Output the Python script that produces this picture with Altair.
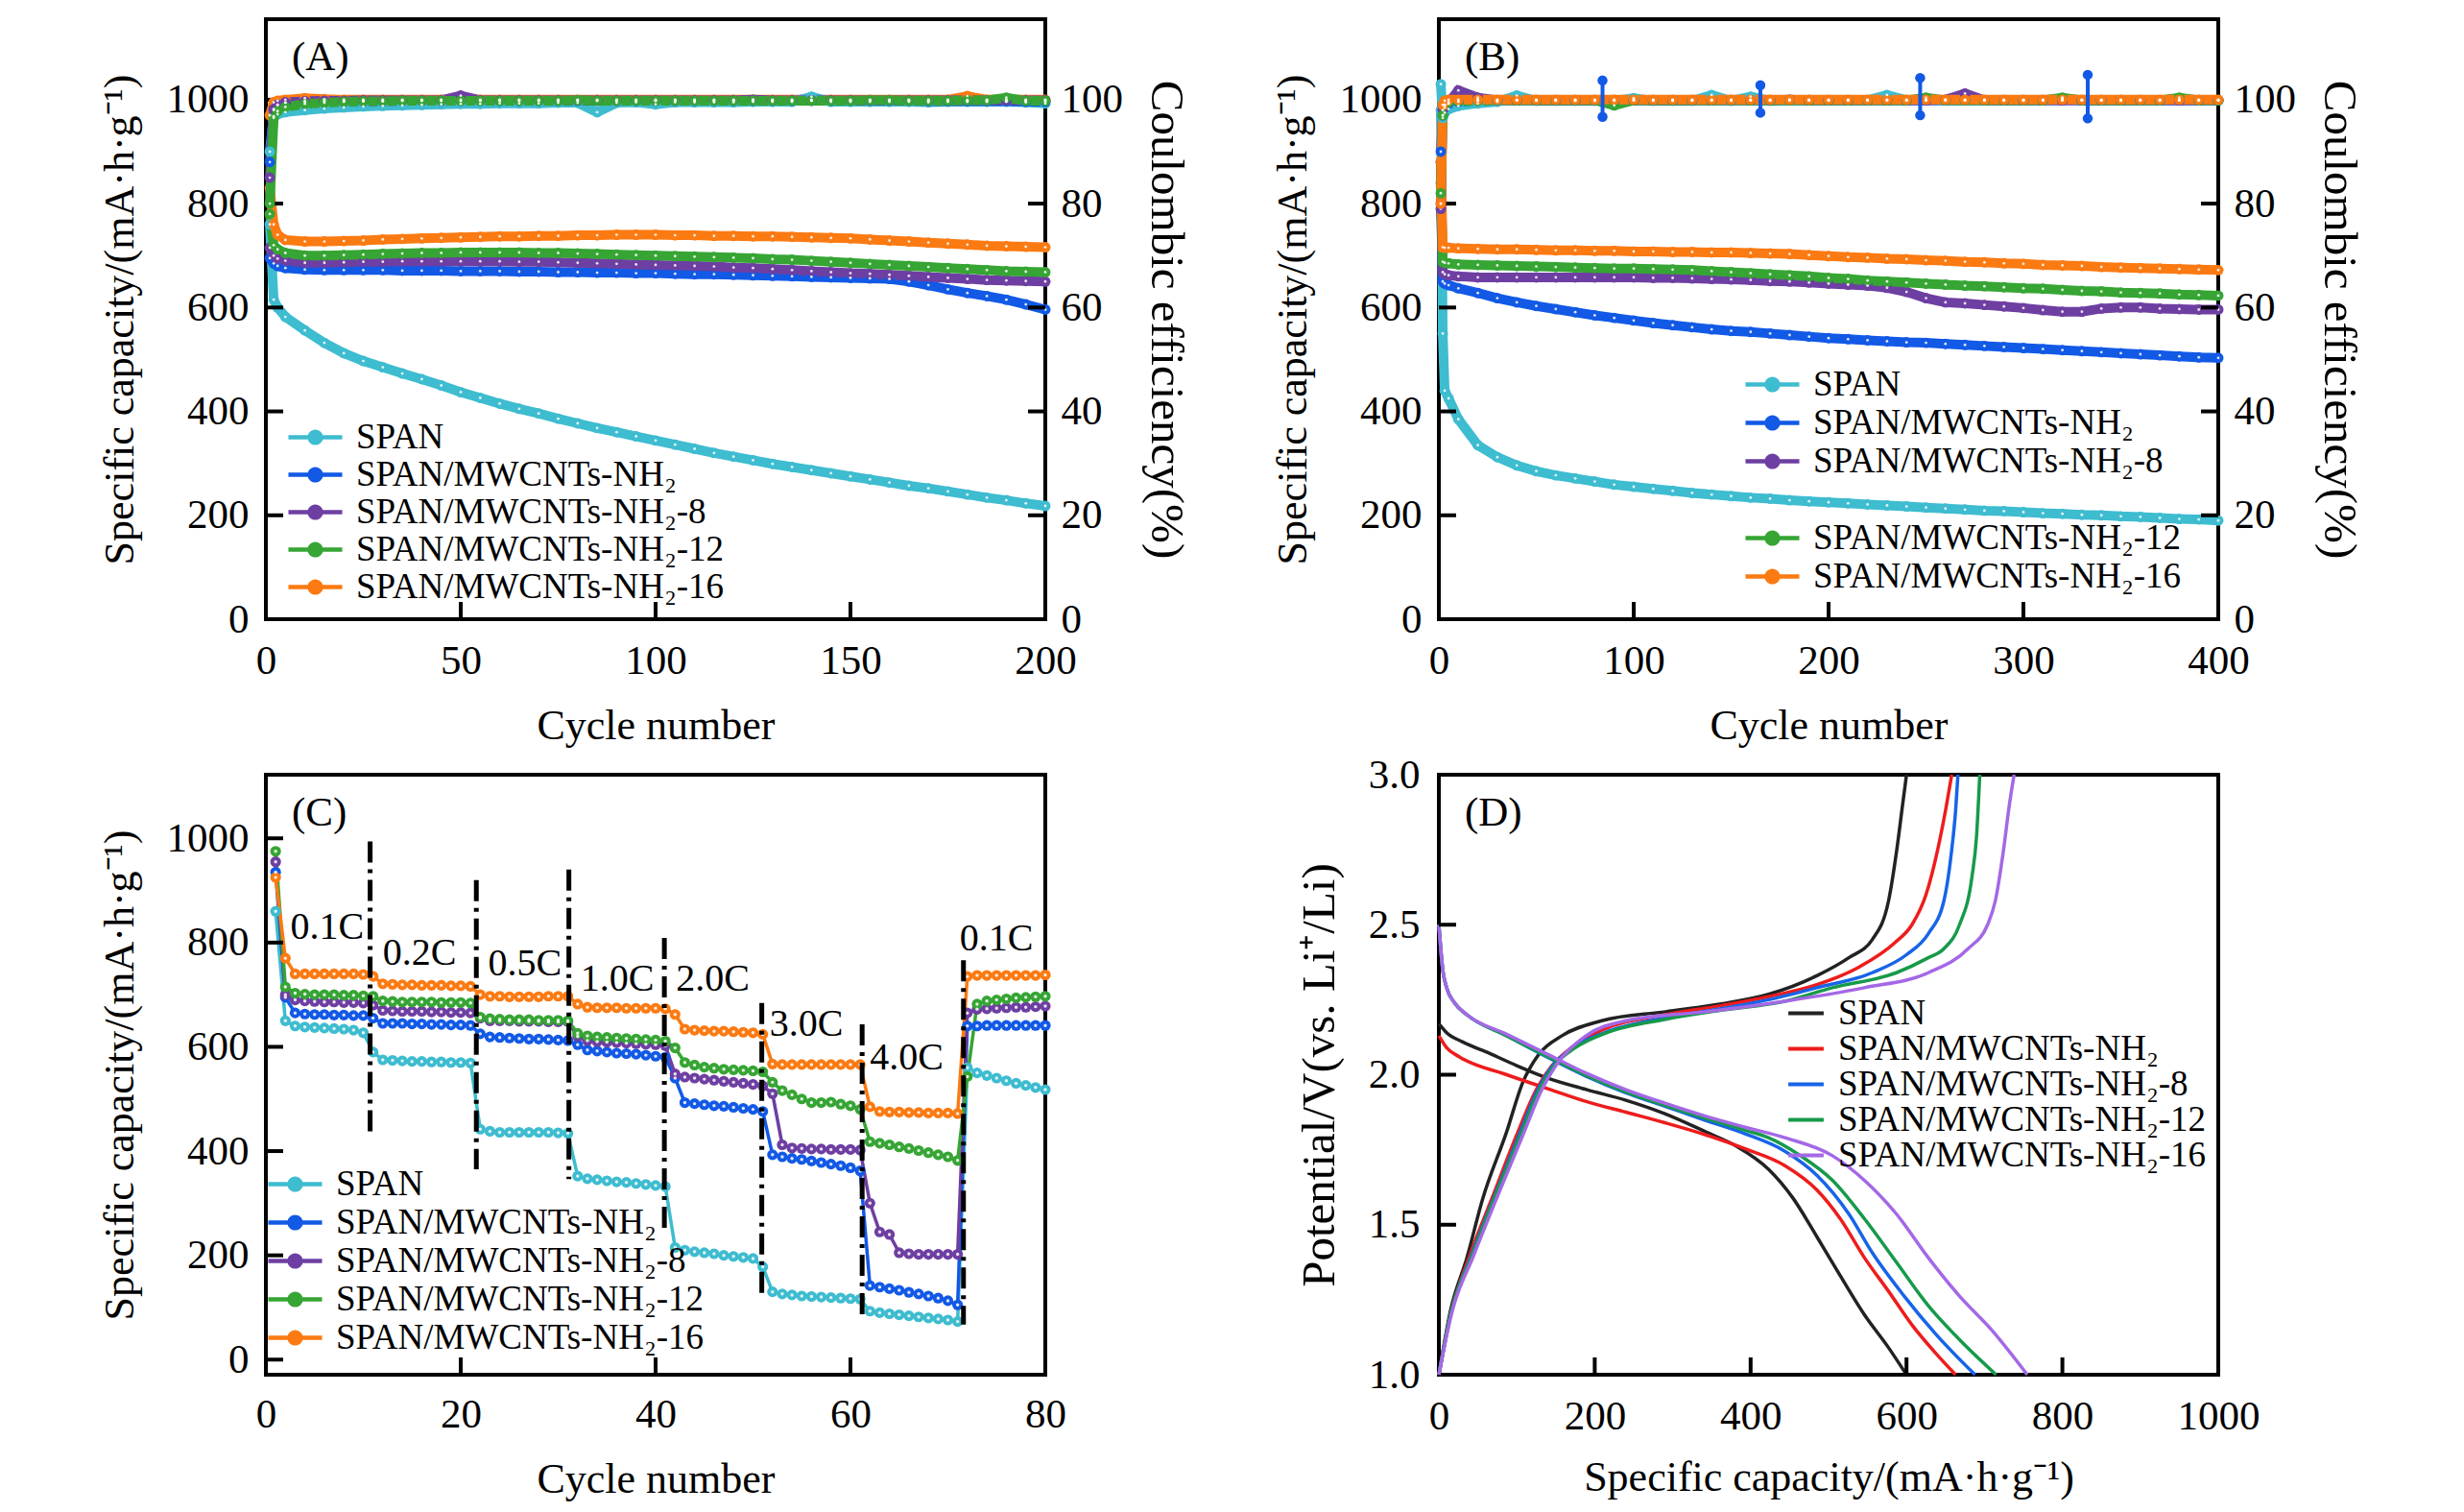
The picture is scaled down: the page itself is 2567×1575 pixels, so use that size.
import altair as alt
import pandas as pd

FONT = "Liberation Serif"
W, H = 812, 625
TICK_LEN = 18

SERIES = ["SPAN", "SPAN/MWCNTs-NH₂", "SPAN/MWCNTs-NH₂-8",
          "SPAN/MWCNTs-NH₂-12", "SPAN/MWCNTs-NH₂-16"]
COLORS = ["#3EBCD0", "#1259E6", "#6E3FA2", "#36A534", "#FB7A12"]
D_COLORS = ["#222222", "#EE1C1C", "#1764E8", "#169A4A", "#A468E6"]

# ------------------------------------------------------------------ (A)
a_cycles = [1, 2, 3] + list(range(5, 201, 5))
a_cap_span = [760, 615, 600, 582,
              556, 532, 512, 497, 485, 473, 462, 450, 437,
              426, 415, 405, 396, 386, 377, 368, 360, 352, 344,
              336, 328, 320, 313, 306, 299, 293, 287, 281, 275,
              269, 263, 257, 252, 246, 240, 234, 229, 223, 218]
a_cap_nh2 = [695, 685, 680, 676,
             673, 672, 672, 672, 672, 671, 671, 671, 670,
             670, 670, 669, 669, 668, 668, 667, 667, 666, 666,
             665, 664, 664, 663, 662, 661, 660, 659, 658, 657,
             656, 655, 650, 643, 635, 628, 622, 615, 606, 596]
a_cap_8 = [715, 700, 694, 690,
           686, 686, 687, 688, 688, 689, 689, 689, 689,
           689, 689, 688, 688, 687, 686, 685, 684, 683, 682,
           681, 680, 679, 677, 676, 674, 672, 670, 668, 666,
           665, 663, 661, 659, 657, 655, 653, 652, 651, 650]
a_cap_12 = [780, 720, 712, 705,
            700, 700, 701, 702, 703, 704, 705, 705, 706,
            706, 706, 706, 705, 705, 704, 703, 702, 701, 700,
            699, 698, 697, 696, 695, 693, 692, 690, 688, 686,
            684, 682, 680, 678, 676, 674, 672, 670, 669, 668]
a_cap_16 = [830, 760, 740, 730,
            727, 727, 728, 729, 731, 732, 733, 734, 735,
            736, 737, 737, 738, 738, 739, 739, 740, 740, 740,
            739, 739, 738, 738, 737, 737, 736, 735, 734, 733,
            731, 729, 727, 725, 723, 721, 719, 718, 717, 716]
a_ce_span = [90.0, 96.8, 97.2, 97.6,
             98.0, 98.3, 98.5, 98.7, 98.8, 98.9, 99.0, 99.1, 99.2,
             99.2, 99.3, 99.3, 99.3, 99.4, 99.4, 97.6, 99.4, 99.5, 99.1,
             99.5, 99.5, 99.5, 99.5, 99.6, 99.6, 99.6, 100.6, 99.6, 99.6,
             99.6, 99.6, 99.6, 99.5, 99.6, 99.6, 99.6, 99.6, 99.5, 99.3]
a_ce_nh2 = [88.0, 98.0, 99.0, 99.4,
            99.6, 99.7, 99.7, 99.7, 99.7, 99.8, 99.8, 99.8, 99.8,
            99.8, 99.8, 99.8, 99.8, 99.8, 99.8, 99.8, 99.8, 99.8, 99.8,
            99.8, 99.8, 99.8, 99.8, 99.8, 99.8, 99.8, 99.8, 99.8, 99.8,
            99.8, 99.8, 99.8, 99.7, 99.7, 99.7, 99.7, 99.7, 99.6, 99.6]
a_ce_8 = [85.0, 98.2, 99.0, 99.5,
          99.7, 99.8, 99.8, 99.9, 99.9, 99.9, 99.9, 99.9, 100.8,
          99.9, 99.9, 99.9, 99.9, 99.9, 99.9, 99.9, 99.9, 99.9, 99.9,
          99.9, 99.9, 99.9, 99.9, 100.0, 99.9, 99.9, 99.9, 99.9, 99.9,
          99.9, 99.9, 99.9, 99.9, 99.9, 99.9, 99.9, 99.9, 99.9, 99.9]
a_ce_12 = [80.0, 96.5, 97.8, 98.6,
           99.2, 99.4, 99.6, 99.7, 99.7, 99.8, 99.8, 99.8, 99.8,
           99.8, 99.8, 99.8, 99.8, 99.8, 99.9, 99.8, 99.8, 99.8, 99.8,
           99.8, 99.8, 99.8, 99.8, 99.8, 99.8, 99.8, 99.8, 99.8, 99.8,
           99.9, 99.9, 99.8, 99.8, 99.8, 99.9, 99.9, 100.4, 99.8, 99.8]
a_ce_16 = [97.0, 99.5, 99.8, 100.0,
           100.3, 100.1, 100.0, 100.0, 100.0, 100.0, 100.0, 100.0, 100.0,
           100.0, 100.0, 100.0, 100.0, 100.0, 100.0, 100.0, 100.0, 100.0, 100.0,
           100.0, 100.0, 100.0, 100.0, 100.0, 100.0, 100.0, 100.0, 100.0, 100.0,
           100.0, 100.0, 100.0, 100.0, 100.0, 100.7, 100.0, 100.0, 100.0, 100.0]

# ------------------------------------------------------------------ (B)
b_cycles = [1, 2, 3, 5] + list(range(10, 401, 10))
b_cap_span = [980, 550, 440, 425,
              385, 335, 312, 296, 285, 277, 271, 265, 259, 255,
              251, 247, 243, 240, 237, 234, 232, 229, 227, 225,
              223, 221, 219, 217, 215, 213, 211, 209, 208, 206,
              204, 203, 201, 200, 198, 197, 195, 193, 192, 190]
b_cap_nh2 = [880, 650, 646, 643,
             637, 628, 618, 610, 603, 597, 591, 585, 580, 575,
             570, 566, 562, 558, 555, 553, 550, 547, 544, 541,
             539, 537, 535, 533, 532, 530, 528, 526, 524, 522,
             520, 518, 516, 514, 512, 510, 508, 506, 504, 503]
b_cap_8 = [790, 668, 664, 662,
           660, 658, 658, 658, 658, 658, 658, 658, 658, 658,
           657, 657, 656, 655, 654, 653, 651, 650, 648, 646,
           644, 642, 638, 630, 618, 610, 608, 605, 602, 599,
           595, 592, 592, 598, 600, 600, 598, 597, 596, 596]
b_cap_12 = [840, 688, 686, 685,
            683, 682, 681, 680, 679, 678, 677, 676, 675, 675,
            674, 673, 672, 670, 668, 666, 664, 662, 660, 657,
            655, 652, 650, 648, 646, 644, 642, 641, 639, 637,
            636, 634, 632, 631, 629, 628, 627, 625, 624, 623]
b_cap_16 = [880, 716, 715, 715,
            714, 713, 712, 712, 711, 710, 710, 709, 709, 708,
            708, 707, 707, 706, 706, 705, 704, 703, 701, 699,
            697, 696, 694, 693, 691, 690, 688, 687, 685, 684,
            682, 681, 680, 678, 677, 676, 675, 674, 673, 672]
b_ce_span = [103.0, 96.5, 97.5, 98.2,
             98.8, 99.3, 99.6, 100.8, 99.8, 99.8, 99.8, 99.8, 99.8, 100.3,
             99.8, 99.8, 99.8, 100.9, 99.8, 100.6, 99.8, 99.9, 99.9, 99.9,
             99.9, 99.9, 100.9, 99.9, 99.9, 99.9, 99.9, 99.9, 99.9, 99.9,
             99.9, 100.3, 99.9, 99.9, 99.9, 99.9, 99.9, 99.9, 99.9, 99.9]
b_ce_nh2 = [90.0, 97.0, 98.5, 99.2,
            99.6, 99.9, 99.9, 99.9, 99.9, 99.9, 99.9, 99.9, 99.9, 99.9,
            99.9, 99.9, 99.9, 99.9, 99.9, 99.9, 99.9, 99.9, 99.9, 99.9,
            99.9, 99.9, 99.9, 99.9, 99.9, 99.9, 99.9, 99.9, 99.9, 99.9,
            99.9, 99.9, 99.9, 99.9, 99.9, 99.9, 99.9, 99.9, 99.9, 99.9]
b_ce_8 = [80.0, 98.0, 99.0, 99.5,
          101.8, 100.4, 99.9, 99.9, 99.9, 99.9, 99.9, 99.9, 99.9, 99.9,
          99.9, 99.9, 99.9, 99.9, 99.9, 99.9, 99.9, 100.0, 99.9, 99.9,
          99.9, 99.9, 99.9, 99.9, 99.9, 100.0, 101.2, 99.9, 99.9, 99.9,
          99.9, 99.9, 99.9, 99.9, 99.9, 99.9, 99.9, 99.9, 99.9, 99.9]
b_ce_12 = [82.0, 97.0, 99.0, 99.5,
           99.7, 99.8, 99.9, 99.9, 99.9, 99.9, 99.9, 99.9, 98.9, 99.9,
           99.9, 99.9, 99.9, 99.9, 99.9, 99.9, 99.9, 99.9, 99.9, 99.9,
           99.9, 99.9, 99.9, 99.9, 100.4, 99.9, 99.9, 99.9, 99.9, 99.9,
           99.9, 100.4, 99.9, 99.9, 99.9, 99.9, 99.9, 100.4, 99.9, 99.9]
b_ce_16 = [80.0, 99.0, 99.8, 100.0,
           100.0, 100.0, 100.0, 100.0, 100.0, 100.0, 100.0, 100.0, 100.0, 100.0,
           100.0, 100.0, 100.0, 100.0, 100.0, 100.0, 100.0, 100.0, 100.0, 100.0,
           100.0, 100.0, 100.0, 100.0, 100.0, 100.0, 100.0, 100.0, 100.0, 100.0,
           100.0, 100.0, 100.0, 100.0, 100.0, 100.0, 100.0, 100.0, 100.0, 100.0]
b_spike_cycles = [84, 165, 247, 333]
b_spike_high = [103.7, 102.8, 104.2, 104.8]
b_spike_low = [96.7, 97.5, 97.0, 96.4]

# ------------------------------------------------------------------ (C)
c_cycles = list(range(1, 81))
c_cap_span = [860, 650, 640, 638, 637, 636, 635, 634, 632, 627,
              590, 575, 574, 573, 572, 572, 571, 571, 570, 570, 569,
              442, 438, 436, 436, 436, 436, 436, 436, 435, 434,
              352, 347, 345, 343, 341, 340, 338, 336, 334, 332,
              215, 210, 207, 205, 203, 200, 198, 196, 194, 178,
              130, 126, 124, 122, 121, 120, 119, 118, 117, 116,
              93, 90, 88, 86, 84, 82, 80, 78, 76, 73,
              560, 550, 545, 540, 535, 530, 526, 522, 518]
c_cap_nh2 = [935, 695, 665, 663, 662, 662, 661, 661, 660, 660,
             655, 645, 645, 645, 644, 644, 643, 643, 642, 642, 641,
             625, 619, 618, 617, 616, 615, 615, 614, 613, 612,
             604, 594, 592, 590, 588, 587, 586, 584, 582, 580,
             540, 493, 491, 489, 487, 486, 484, 482, 480, 476,
             393, 389, 386, 384, 381, 378, 375, 372, 368, 362,
             142, 139, 136, 133, 129, 126, 122, 118, 113, 105,
             640, 640, 641, 641, 641, 641, 641, 641, 641]
c_cap_8 = [955, 700, 690, 688, 687, 686, 686, 685, 685, 684,
           680, 670, 669, 668, 668, 668, 667, 667, 666, 666, 665,
           655, 650, 650, 650, 649, 649, 649, 648, 648, 648,
           620, 612, 610, 609, 608, 607, 606, 605, 604, 602,
           548, 542, 540, 538, 536, 534, 532, 530, 528, 525,
           510, 412, 406, 405, 404, 404, 403, 403, 403, 402,
           300, 245, 240, 205, 203, 202, 202, 202, 202, 202,
           665, 672, 673, 674, 675, 676, 676, 677, 678]
c_cap_12 = [975, 715, 703, 701, 700, 700, 700, 699, 699, 698,
            697, 688, 687, 686, 686, 686, 686, 685, 685, 685, 684,
            657, 654, 653, 652, 652, 652, 651, 651, 651, 650,
            626, 621, 619, 618, 617, 616, 615, 614, 613, 611,
            598, 570, 565, 561, 559, 557, 556, 555, 554, 552,
            532, 516, 508, 500, 493, 493, 494, 490, 487, 480,
            418, 415, 412, 408, 405, 401, 397, 393, 389, 382,
            543, 682, 688, 690, 692, 694, 695, 696, 697]
c_cap_16 = [925, 770, 740, 740, 740, 740, 740, 740, 740, 739,
            735, 721, 720, 719, 719, 718, 718, 718, 717, 717, 716,
            700, 697, 697, 696, 696, 696, 696, 697, 697, 697,
            682, 676, 675, 675, 675, 674, 674, 674, 674, 673,
            662, 634, 632, 631, 630, 630, 629, 628, 627, 624,
            567, 566, 566, 566, 566, 566, 566, 566, 566, 566,
            485, 476, 475, 475, 474, 474, 473, 473, 473, 472,
            735, 737, 737, 737, 737, 737, 737, 737, 738]
c_rate_text = ["0.1C", "0.2C", "0.5C", "1.0C", "2.0C", "3.0C", "4.0C", "0.1C"]
c_rate_x = [2.5, 12.0, 22.8, 32.3, 42.1, 51.7, 62.0, 71.2]
c_rate_y = [830, 780, 760, 730, 730, 643, 578, 808]
c_div_x = [10.7, 21.6, 31.1, 40.9, 50.9, 61.2, 71.6]
c_div_top = [994, 920, 940, 809, 684, 643, 766]
c_div_bottom = [437, 365, 346, 247, 124, 85, 67]

# ------------------------------------------------------------------ (D)
d_dis_cap = {
    SERIES[0]: [0, 10, 30, 66, 100, 138, 190, 240, 290, 342, 383, 423, 454, 485, 515, 546, 577, 600],
    SERIES[1]: [0, 10, 26, 87, 138, 190, 240, 290, 342, 393, 444, 485, 515, 546, 577, 607, 638, 663],
    SERIES[2]: [0, 5, 10, 20, 36, 87, 138, 189, 240, 290, 342, 393, 444, 485, 526, 556, 597, 638, 688],
    SERIES[3]: [0, 5, 10, 20, 36, 87, 138, 189, 240, 290, 342, 393, 423, 464, 505, 546, 587, 628, 668, 715],
    SERIES[4]: [0, 5, 10, 20, 36, 87, 138, 189, 240, 290, 342, 393, 444, 505, 546, 587, 628, 668, 709, 755],
}
d_dis_volt = {
    SERIES[0]: [2.17, 2.14, 2.11, 2.07, 2.03, 1.99, 1.95, 1.915, 1.87, 1.81, 1.76, 1.685, 1.59, 1.46, 1.33, 1.2, 1.09, 1.0],
    SERIES[1]: [2.13, 2.09, 2.06, 2.0, 1.955, 1.91, 1.875, 1.84, 1.80, 1.753, 1.697, 1.616, 1.52, 1.39, 1.278, 1.166, 1.07, 1.0],
    SERIES[2]: [2.5, 2.35, 2.29, 2.24, 2.2, 2.13, 2.06, 1.995, 1.94, 1.895, 1.848, 1.803, 1.745, 1.665, 1.536, 1.407, 1.262, 1.134, 1.0],
    SERIES[3]: [2.5, 2.35, 2.29, 2.24, 2.2, 2.13, 2.063, 1.998, 1.943, 1.898, 1.855, 1.815, 1.79, 1.73, 1.648, 1.52, 1.375, 1.23, 1.117, 1.0],
    SERIES[4]: [2.5, 2.35, 2.29, 2.24, 2.2, 2.135, 2.07, 2.005, 1.95, 1.905, 1.862, 1.825, 1.79, 1.73, 1.648, 1.536, 1.39, 1.262, 1.15, 1.0],
}
d_chg_cap = {
    SERIES[0]: [0, 15, 36, 56, 87, 107, 128, 158, 209, 291, 362, 423, 485, 526, 556, 577, 587, 595, 600],
    SERIES[1]: [0, 15, 40, 70, 100, 125, 145, 170, 210, 291, 362, 423, 485, 540, 585, 607, 625, 640, 650, 658],
    SERIES[2]: [0, 15, 42, 72, 103, 127, 146, 172, 212, 291, 362, 423, 485, 556, 600, 628, 648, 658, 663, 666],
    SERIES[3]: [0, 15, 43, 73, 105, 129, 148, 175, 215, 291, 362, 444, 505, 587, 628, 648, 668, 684, 690, 694],
    SERIES[4]: [0, 16, 45, 76, 108, 132, 150, 189, 240, 342, 444, 546, 628, 679, 704, 714, 724, 732, 738],
}
d_chg_volt = {
    SERIES[0]: [1.0, 1.214, 1.39, 1.584, 1.81, 1.97, 2.067, 2.13, 2.18, 2.21, 2.236, 2.268, 2.33, 2.39, 2.45, 2.58, 2.74, 2.9, 3.0],
    SERIES[1]: [1.0, 1.2, 1.4, 1.6, 1.8, 1.95, 2.03, 2.09, 2.15, 2.2, 2.23, 2.26, 2.3, 2.36, 2.44, 2.5, 2.6, 2.75, 2.88, 3.0],
    SERIES[2]: [1.0, 1.2, 1.4, 1.6, 1.8, 1.95, 2.03, 2.09, 2.14, 2.19, 2.22, 2.25, 2.29, 2.34, 2.4, 2.47, 2.58, 2.75, 2.88, 3.0],
    SERIES[3]: [1.0, 1.2, 1.4, 1.6, 1.8, 1.95, 2.03, 2.09, 2.14, 2.185, 2.215, 2.245, 2.29, 2.34, 2.39, 2.42, 2.5, 2.66, 2.8, 3.0],
    SERIES[4]: [1.0, 1.2, 1.4, 1.6, 1.8, 1.95, 2.03, 2.13, 2.18, 2.21, 2.245, 2.29, 2.34, 2.42, 2.5, 2.58, 2.74, 2.9, 3.0],
}

CAP_TITLE = "Specific capacity/(mA·h·g⁻¹)"
CE_TITLE = "Coulombic efficiency(%)"
LEG_PATH = ("M-1.9,-0.15H1.9V0.15H-1.9Z "
            "M0.55,0A0.55,0.55 0 1,1 -0.55,0A0.55,0.55 0 1,1 0.55,0Z")
LEG_LINE = "M-1.6,0H1.6"


def long_table(cycles, series_lists, key):
    rows = []
    for name, vals in series_lists:
        assert len(vals) == len(cycles), (name, len(vals), len(cycles))
        for c, v in zip(cycles, vals):
            rows.append({"cycle": c, "series": name, key: v})
    return pd.DataFrame(rows)


def tick_layers(xscale, xaxis, yscale, yaxis, xticks, yticks, right=False):
    """Inward tick marks drawn as short rules; they share the panel's axes."""
    out = [alt.Chart(pd.DataFrame({"t": xticks})).mark_rule(color="black", strokeWidth=4).encode(
        x=alt.X("t:Q", scale=xscale, axis=xaxis),
        y=alt.value(H), y2=alt.value(H - TICK_LEN))]
    out.append(alt.Chart(pd.DataFrame({"t": yticks})).mark_rule(color="black", strokeWidth=4).encode(
        y=alt.Y("t:Q", scale=yscale, axis=yaxis),
        x=alt.value(0), x2=alt.value(TICK_LEN)))
    if right:
        out.append(alt.Chart(pd.DataFrame({"t": yticks})).mark_rule(color="black", strokeWidth=4).encode(
            y=alt.Y("t:Q", scale=yscale, axis=yaxis),
            x=alt.value(W - TICK_LEN), x2=alt.value(W)))
    return out


def panel_label(text):
    return alt.Chart(pd.DataFrame({"lab": [text]})).mark_text(
        align="left", baseline="middle", font=FONT, fontSize=43, color="black").encode(
        x=alt.value(27), y=alt.value(40), text="lab:N")


def series_layers(df, x, y, cscale, legend, line_w, pt_size, dot_size):
    base = alt.Chart(df)
    color = alt.Color("series:N", scale=cscale, legend=legend)
    line = base.mark_line(strokeWidth=line_w).encode(x=x, y=y, color=color)
    pts = base.mark_point(filled=True, size=pt_size, opacity=1).encode(x=x, y=y, color=color)
    dots = base.mark_point(filled=True, size=dot_size, color="white", opacity=0.85).encode(x=x, y=y)
    return [line, pts, dots]


def make_legend(lx, ly, row_pad):
    return alt.Legend(title=None, orient="none", legendX=lx, legendY=ly,
                      symbolType=LEG_PATH, symbolSize=870, symbolStrokeWidth=0,
                      labelFont=FONT, labelFontSize=37, labelColor="black",
                      labelOffset=24, rowPadding=row_pad, labelLimit=1000)


def cycle_panel(letter, cycles, caps, ces, xdom, xvals, xticks, leg_domain, leg_range,
                legend, line_w, pt_size, dot_size, spikes=None):
    xscale = alt.Scale(domain=xdom, nice=False, zero=False)
    yscale = alt.Scale(domain=[0, 1155], nice=False, zero=False)
    cescale = alt.Scale(domain=[0, 115.5], nice=False, zero=False)
    cscale = alt.Scale(domain=leg_domain, range=leg_range)
    xaxis = alt.Axis(values=xvals, title="Cycle number", labelFlush=False, format="d",
                     labelPadding=22, titlePadding=24)
    yaxis = alt.Axis(values=[0, 200, 400, 600, 800, 1000], title=CAP_TITLE, format="d",
                     labelPadding=18, titlePadding=26)
    ceaxis = alt.Axis(values=[0, 20, 40, 60, 80, 100], title=CE_TITLE, orient="right", format="d",
                      labelPadding=16, titlePadding=20, titleFontSize=49)
    x = alt.X("cycle:Q", scale=xscale, axis=xaxis)
    y = alt.Y("cap:Q", scale=yscale, axis=yaxis)
    yce = alt.Y("ce:Q", scale=cescale, axis=ceaxis)
    cap_df = long_table(cycles, caps, "cap")
    ce_df = long_table(cycles, ces, "ce")
    cap_layers = series_layers(cap_df, x, y, cscale, legend, line_w, pt_size, dot_size)
    cap_layers += tick_layers(xscale, xaxis, yscale, yaxis, xticks, [200, 400, 600, 800, 1000], right=True)
    cap_layers.append(panel_label(letter))
    ce_layers = series_layers(ce_df, x, yce, cscale, legend, line_w, pt_size, dot_size)
    if spikes is not None:
        sc, hi, lo, color = spikes
        sdf = pd.DataFrame({"cycle": sc, "hi": hi, "lo": lo})
        ce_layers.append(alt.Chart(sdf).mark_rule(color=color, strokeWidth=4).encode(
            x=x, y=alt.Y("hi:Q", scale=cescale, axis=ceaxis), y2="lo:Q"))
        for fld in ["hi", "lo"]:
            ce_layers.append(alt.Chart(sdf).mark_point(filled=True, size=110, color=color, opacity=1).encode(
                x=x, y=alt.Y(fld + ":Q", scale=cescale, axis=ceaxis)))
    cap_group = alt.layer(*cap_layers)
    ce_group = alt.layer(*ce_layers)
    return alt.layer(cap_group, ce_group).resolve_scale(y="independent").properties(width=W, height=H)


# ---- panel A
a_caps = [(SERIES[0], a_cap_span), (SERIES[1], a_cap_nh2), (SERIES[2], a_cap_8),
          (SERIES[3], a_cap_12), (SERIES[4], a_cap_16)]
a_ces = [(SERIES[4], a_ce_16), (SERIES[0], a_ce_span), (SERIES[1], a_ce_nh2),
         (SERIES[2], a_ce_8), (SERIES[3], a_ce_12)]
panel_a = cycle_panel("(A)", a_cycles, a_caps, a_ces, [0, 200], [0, 50, 100, 150, 200], [50, 100, 150],
                      SERIES, COLORS, make_legend(33, 417, 1), 10, 120, 8)

# ---- panel B
b_caps = [(SERIES[0], b_cap_span), (SERIES[1], b_cap_nh2), (SERIES[2], b_cap_8),
          (SERIES[3], b_cap_12), (SERIES[4], b_cap_16)]
b_ces = [(SERIES[0], b_ce_span), (SERIES[1], b_ce_nh2), (SERIES[2], b_ce_8),
         (SERIES[3], b_ce_12), (SERIES[4], b_ce_16)]
b_domain = SERIES[:3] + [" "] + SERIES[3:]
b_range = COLORS[:3] + ["transparent"] + COLORS[3:]
panel_b = cycle_panel("(B)", b_cycles, b_caps, b_ces, [0, 400], [0, 100, 200, 300, 400], [100, 200, 300],
                      b_domain, b_range, make_legend(329, 362, 2), 10, 120, 8,
                      spikes=(b_spike_cycles, b_spike_high, b_spike_low, COLORS[1]))

# ---- panel C
c_xscale = alt.Scale(domain=[0, 80], nice=False, zero=False)
c_yscale = alt.Scale(domain=[-29, 1122], nice=False, zero=False)
c_xaxis = alt.Axis(values=[0, 20, 40, 60, 80], title="Cycle number", labelFlush=False, format="d",
                   labelPadding=20, titlePadding=24)
c_yaxis = alt.Axis(values=[0, 200, 400, 600, 800, 1000], title=CAP_TITLE, format="d",
                   labelPadding=18, titlePadding=26)
c_x = alt.X("cycle:Q", scale=c_xscale, axis=c_xaxis)
c_y = alt.Y("cap:Q", scale=c_yscale, axis=c_yaxis)
c_df = long_table(c_cycles, [(SERIES[0], c_cap_span), (SERIES[1], c_cap_nh2), (SERIES[2], c_cap_8),
                             (SERIES[3], c_cap_12), (SERIES[4], c_cap_16)], "cap")
c_layers = series_layers(c_df, c_x, c_y, alt.Scale(domain=SERIES, range=COLORS),
                         make_legend(12, 408, 2), 3.5, 125, 12)
c_layers += tick_layers(c_xscale, c_xaxis, c_yscale, c_yaxis, [20, 40, 60], [0, 200, 400, 600, 800, 1000])
div_df = pd.DataFrame({"x": c_div_x, "top": c_div_top, "bottom": c_div_bottom})
c_layers.append(alt.Chart(div_df).mark_rule(color="black", strokeWidth=5, strokeDash=[22, 7, 4, 7]).encode(
    x=alt.X("x:Q", scale=c_xscale, axis=c_xaxis),
    y=alt.Y("top:Q", scale=c_yscale, axis=c_yaxis), y2="bottom:Q"))
rate_df = pd.DataFrame({"x": c_rate_x, "y": c_rate_y, "lab": c_rate_text})
c_layers.append(alt.Chart(rate_df).mark_text(align="left", baseline="middle", font=FONT,
                                             fontSize=40, color="black").encode(
    x=alt.X("x:Q", scale=c_xscale, axis=c_xaxis),
    y=alt.Y("y:Q", scale=c_yscale, axis=c_yaxis), text="lab:N"))
c_layers.append(panel_label("(C)"))
panel_c = alt.layer(*c_layers).properties(width=W, height=H)

# ---- panel D
d_rows = []
for s in SERIES:
    for branch, caps_, volts_ in [("discharge", d_dis_cap[s], d_dis_volt[s]),
                                  ("charge", d_chg_cap[s], d_chg_volt[s])]:
        assert len(caps_) == len(volts_), (s, branch)
        for i, (c, v) in enumerate(zip(caps_, volts_)):
            d_rows.append({"series": s, "branch": branch, "idx": i, "cap": c, "volt": v})
d_df = pd.DataFrame(d_rows)
d_xscale = alt.Scale(domain=[0, 1000], nice=False, zero=False)
d_yscale = alt.Scale(domain=[1.0, 3.0], nice=False, zero=False)
d_xaxis = alt.Axis(values=[0, 200, 400, 600, 800, 1000], title=CAP_TITLE, labelFlush=False, format="d",
                   labelPadding=22, titlePadding=20)
d_yaxis = alt.Axis(values=[1.0, 1.5, 2.0, 2.5, 3.0], format=".1f",
                   title="Potential/V(vs. Li⁺/Li)", labelPadding=20, titlePadding=26, titleFontSize=49)
d_line = alt.Chart(d_df).mark_line(strokeWidth=3.5, interpolate="monotone").encode(
    x=alt.X("cap:Q", scale=d_xscale, axis=d_xaxis),
    y=alt.Y("volt:Q", scale=d_yscale, axis=d_yaxis),
    color=alt.Color("series:N", scale=alt.Scale(domain=SERIES, range=D_COLORS),
                    legend=alt.Legend(title=None, orient="none", legendX=364, legendY=230,
                                      symbolType=LEG_LINE, symbolSize=530, symbolStrokeWidth=4,
                                      labelFont=FONT, labelFontSize=37, labelColor="black",
                                      labelOffset=15, rowPadding=-2, labelLimit=1000)),
    detail="branch:N",
    order="idx:Q")
d_layers = [d_line] + tick_layers(d_xscale, d_xaxis, d_yscale, d_yaxis, [200, 400, 600, 800], [1.5, 2.0, 2.5])
d_layers.append(panel_label("(D)"))
panel_d = alt.layer(*d_layers).properties(width=W, height=H)

chart = alt.concat(panel_a, panel_b, panel_c, panel_d, columns=2,
                   spacing={"row": 162, "column": 410}, bounds="flush",
                   padding={"left": 93, "top": 10, "right": 5, "bottom": 5}
                   ).resolve_scale(color="independent").resolve_legend(color="independent"
                   ).configure_view(stroke="black", strokeWidth=4
                   ).configure_axis(domain=False, ticks=False, tickSize=0, grid=False,
                                    labelFont=FONT, titleFont=FONT, labelFontSize=43, titleFontSize=44,
                                    titleFontWeight="normal", labelColor="black", titleColor="black",
                                    labelOverlap=False
                   ).configure_legend(labelFont=FONT)

chart.save("out.html", embed_options={"renderer": "svg", "actions": False})
